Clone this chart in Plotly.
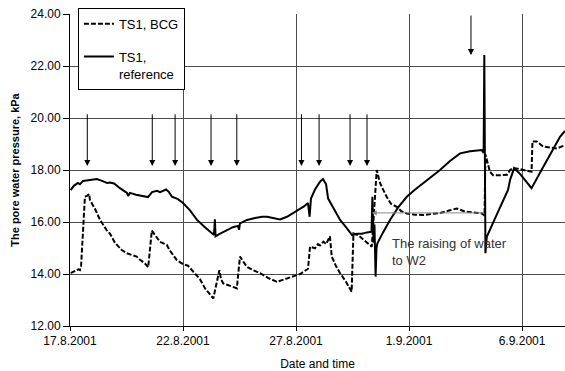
import pandas as pd
import plotly.graph_objects as go

BASE = pd.Timestamp("2001-08-17")

# TS1, reference (solid) - days after 17.8.2001 and pore water pressure (kPa)
ref_days = [0.03, 0.18, 0.35, 0.44, 0.58, 0.75, 0.97, 1.19, 1.42, 1.64, 1.77, 1.95, 2.21, 2.52, 2.57,
            2.65, 2.92, 3.19, 3.45, 3.63, 3.85, 3.98, 4.25, 4.38, 4.51, 4.78, 5.00, 5.31, 5.62, 5.97,
            6.28, 6.37, 6.41, 6.44, 6.64, 6.95, 7.21, 7.43, 7.48, 7.52, 7.83, 8.19, 8.50, 8.72, 8.94,
            9.29, 9.60, 9.87, 10.18, 10.35, 10.53, 10.60, 10.66, 10.84, 11.06, 11.19, 11.33, 11.42,
            11.68, 11.95, 12.21, 12.48, 12.70, 12.92, 13.14, 13.34, 13.38, 13.43, 13.47, 13.52, 13.56,
            13.60, 13.85, 14.16, 14.51, 14.90, 15.27, 15.62, 15.93, 16.37, 16.81, 17.26, 17.70, 18.22,
            18.30, 18.33, 18.38, 18.44, 18.89, 19.38, 19.47, 19.65, 19.91, 20.18, 20.42, 20.80, 21.24,
            21.68, 21.90]
ref_vals = [17.23, 17.40, 17.50, 17.45, 17.58, 17.60, 17.65, 17.65, 17.58, 17.50, 17.52, 17.48, 17.30,
            17.12, 17.00, 17.12, 17.05, 17.00, 16.96, 17.15, 17.20, 17.15, 17.25, 17.15, 16.97, 16.88,
            16.73, 16.45, 16.08, 15.80, 15.55, 15.50, 16.10, 15.45, 15.55, 15.69, 15.80, 15.85, 15.70,
            15.95, 16.08, 16.15, 16.20, 16.20, 16.15, 16.10, 16.20, 16.34, 16.50, 16.60, 16.73, 16.20,
            16.90, 17.25, 17.55, 17.65, 17.45, 16.90, 16.50, 16.08, 15.80, 15.50, 15.55, 15.55, 15.60,
            15.63, 16.97, 15.20, 15.90, 13.90, 15.00, 15.18, 15.60, 16.08, 16.55, 16.97, 17.25, 17.49,
            17.70, 18.00, 18.35, 18.64, 18.72, 18.77, 18.65, 22.42, 14.80, 15.43, 16.30, 17.23, 17.62,
            18.07, 17.85, 17.55, 17.30, 17.90, 18.60, 19.28, 19.50]

# TS1, BCG (dashed)
bcg_days = [0.03, 0.18, 0.37, 0.44, 0.49, 0.66, 0.75, 0.85, 0.88, 1.11, 1.33, 1.62, 1.77, 1.99, 2.29,
            2.51, 2.65, 2.95, 3.10, 3.32, 3.46, 3.62, 3.76, 3.98, 4.28, 4.42, 4.72, 4.87, 5.01, 5.22,
            5.46, 5.75, 5.97, 6.19, 6.34, 6.61, 6.68, 6.78, 7.08, 7.38, 7.52, 7.82, 8.10, 8.41, 8.76,
            9.15, 9.51, 9.88, 10.18, 10.53, 10.62, 10.84, 10.97, 11.06, 11.21, 11.33, 11.42, 11.50,
            11.58, 11.77, 11.95, 12.21, 12.46, 12.54, 12.74, 12.92, 13.14, 13.35, 13.57, 13.72, 14.01,
            14.20, 14.46, 14.65, 14.90, 15.27, 15.63, 16.02, 16.37, 16.81, 17.11, 17.48, 17.92, 18.22,
            18.34, 18.38, 18.58, 18.72, 19.03, 19.34, 19.47, 19.60, 19.82, 20.13, 20.42, 20.46, 20.65,
            20.93, 21.24, 21.54, 21.90]
bcg_vals = [14.03, 14.10, 14.18, 14.15, 14.30, 16.97, 17.00, 17.08, 16.85, 16.50, 16.08, 15.69, 15.55,
            15.20, 14.92, 14.80, 14.75, 14.67, 14.55, 14.40, 14.26, 15.67, 15.50, 15.24, 15.12, 14.90,
            14.54, 14.45, 14.37, 14.32, 14.09, 13.80, 13.45, 13.20, 13.06, 14.15, 13.80, 13.64, 13.55,
            13.45, 14.67, 14.28, 14.15, 14.03, 13.85, 13.70, 13.80, 13.90, 14.00, 14.20, 15.05, 14.99,
            15.15, 15.10, 15.24, 15.15, 15.35, 15.45, 14.67, 14.30, 14.03, 13.70, 13.32, 15.56, 15.50,
            15.37, 15.20, 15.05, 18.00, 17.49, 16.97, 16.70, 16.58, 16.42, 16.33, 16.28, 16.27, 16.30,
            16.35, 16.45, 16.52, 16.40, 16.35, 16.33, 16.25, 18.60, 17.93, 17.80, 17.80, 17.82, 18.00,
            18.07, 18.05, 17.98, 17.93, 19.10, 19.10, 18.90, 18.85, 18.83, 18.95]

# Event arrows (days after 17.8.2001)
event_days = [0.765, 3.64, 4.65, 6.24, 7.38, 10.24, 11.02, 12.39, 13.14]
event_tail, event_tip = 20.2, 18.15
top_event_day = 17.74
top_tail, top_tip = 24.0, 22.42

# Water raising period
raise_start, raise_end, raise_level = 13.35, 18.38, 16.35
raise_text = "The raising of water<br>to W2"

x_ticks_start = "2001-08-17"
x_end_days = 21.90

def d(days):
    return BASE + pd.to_timedelta(days, unit="D")

FONT = "Liberation Sans, Arial, sans-serif"

fig = go.Figure()
fig.add_trace(go.Scatter(x=d(bcg_days), y=bcg_vals, mode="lines", name="TS1, BCG",
                         line=dict(color="black", width=2, dash="5px,2px"), legendgroup="a"))
fig.add_trace(go.Scatter(x=d(ref_days), y=ref_vals, mode="lines", name="TS1,<br>reference",
                         line=dict(color="black", width=2), legendgroup="b"))

ann = []
for ev in event_days:
    t = d(ev)
    ann.append(dict(x=t, y=event_tip, ax=t, ay=event_tail, xref="x", yref="y", axref="x", ayref="y",
                    showarrow=True, arrowhead=2, arrowsize=1.2, arrowwidth=1, arrowcolor="black", text=""))
t = d(top_event_day)
ann.append(dict(x=t, y=top_tip, ax=t, ay=top_tail, xref="x", yref="y", axref="x", ayref="y",
                showarrow=True, arrowhead=2, arrowsize=1.2, arrowwidth=1, arrowcolor="black", text=""))
ann.append(dict(x=d(raise_start), y=raise_level, ax=d(raise_end), ay=raise_level, xref="x", yref="y",
                axref="x", ayref="y", showarrow=True, arrowhead=2, arrowsize=1, arrowwidth=1,
                arrowcolor="#888888", text=""))
ann.append(dict(x=d(14.16), y=15.55, xref="x", yref="y", text=raise_text, showarrow=False,
                xanchor="left", yanchor="top", align="left",
                font=dict(family=FONT, size=13, color="#333333")))

fig.update_layout(
    width=565, height=371,
    margin=dict(l=70, r=0, t=14, b=45),
    paper_bgcolor="white", plot_bgcolor="white",
    font=dict(family=FONT, size=12, color="black"),
    annotations=ann,
    showlegend=True,
    legend=dict(x=0.016, y=1.02, xanchor="left", yanchor="top", bordercolor="black", borderwidth=1,
                bgcolor="white", font=dict(family=FONT, size=13, color="black"),
                tracegroupgap=13, traceorder="grouped", valign="top",
                entrywidth=80, entrywidthmode="pixels"),
)
fig.update_xaxes(
    range=[d(0), d(x_end_days)], type="date", tick0=x_ticks_start, dtick=5 * 86400000,
    tickformat="%-d.%-m.%Y", showgrid=True, gridcolor="#4d4d4d", gridwidth=1,
    showline=True, linecolor="black", linewidth=1, ticks="outside", ticklen=4, tickcolor="black",
    zeroline=False, title=dict(text="Date and time", font=dict(family=FONT, size=12), standoff=14),
    tickfont=dict(family=FONT, size=12),
)
fig.update_yaxes(
    range=[12, 24], dtick=2, tickformat=".2f", showgrid=True, gridcolor="#4d4d4d", gridwidth=1,
    showline=True, linecolor="black", linewidth=1, ticks="outside", ticklen=6, tickcolor="black",
    zeroline=False, tickfont=dict(family=FONT, size=12),
    title=dict(text="<b>The pore water pressure, kPa</b>", font=dict(family=FONT, size=11), standoff=8),
)

fig.write_html("out.html")
